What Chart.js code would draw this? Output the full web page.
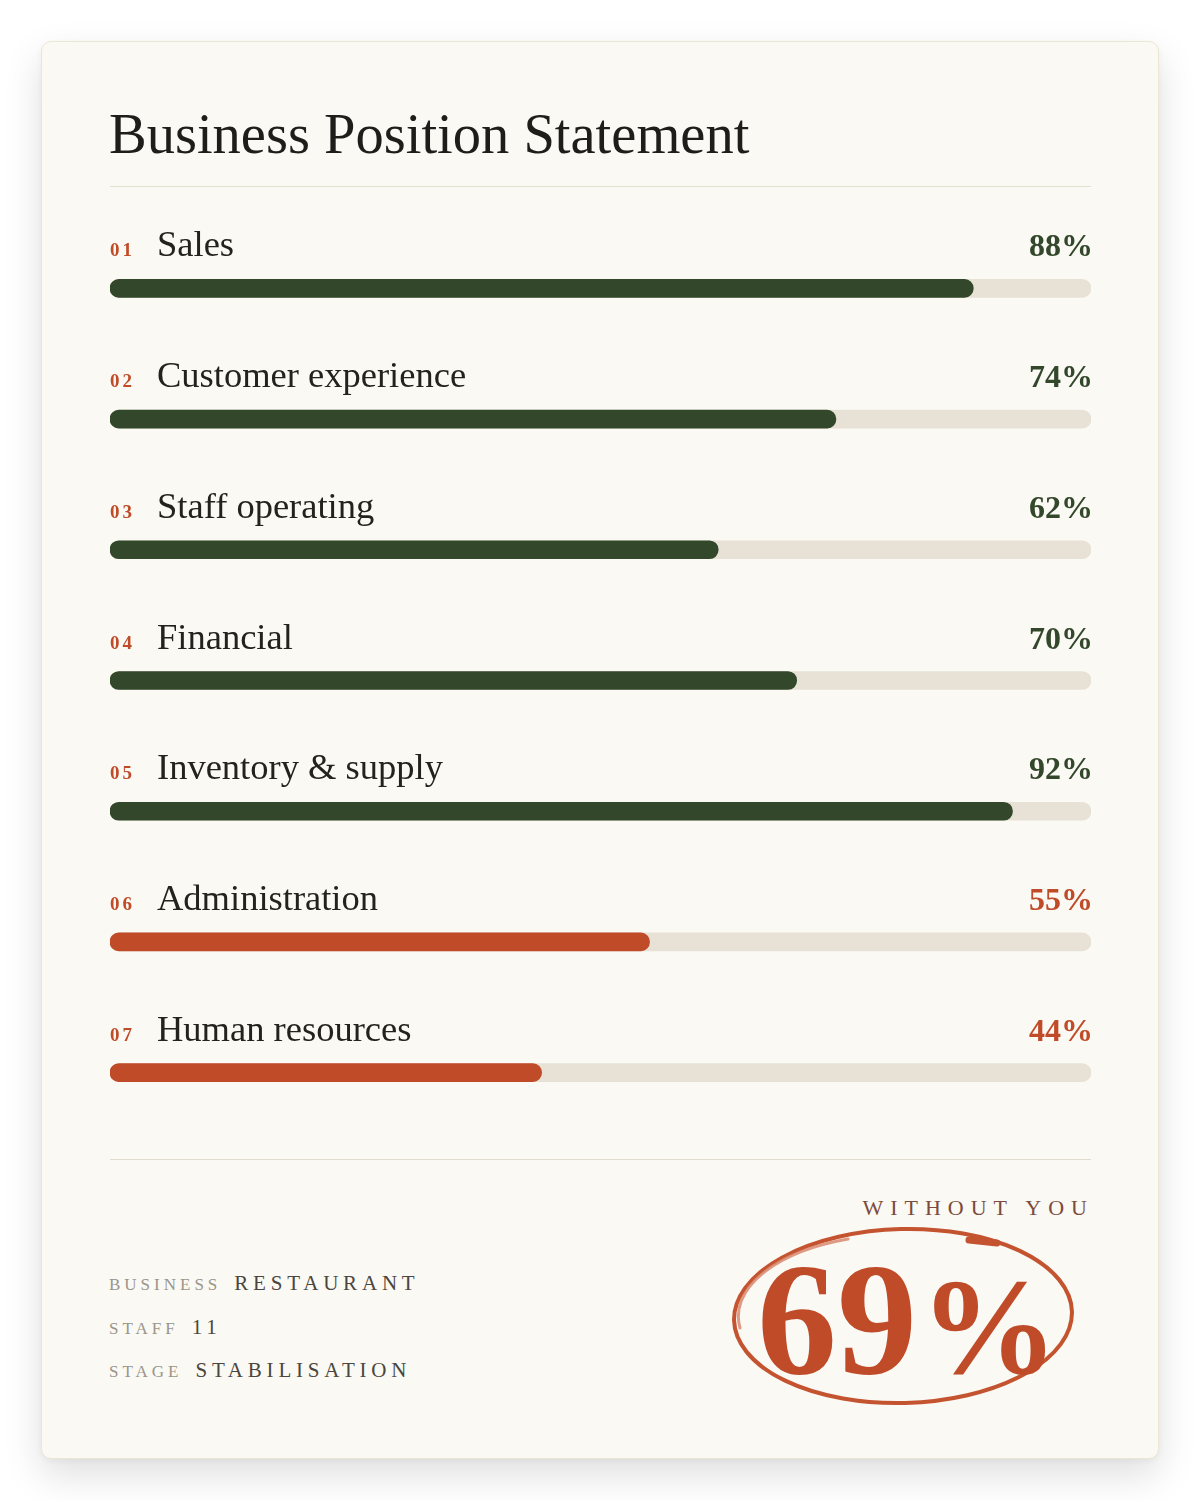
<!DOCTYPE html>
<html>
<head>
<meta charset="utf-8">
<script src="https://cdn.jsdelivr.net/npm/chart.js@4.4.1/dist/chart.umd.min.js"></script>
<style>
  html, body { margin:0; padding:0; background:#ffffff; }
  body { width:1200px; height:1500px; position:relative; overflow:hidden; font-family:"Liberation Serif", serif; }
  #card { position:absolute; left:41px; top:41px; width:1116px; height:1416px; background:#faf9f4;
          border:1px solid #ece6d4; border-radius:10px; box-shadow:0 16px 38px rgba(0,0,0,0.13), 0 2px 6px rgba(0,0,0,0.04); }
  #overlay { position:absolute; left:0; top:0; }
  #chart { position:absolute; left:110px; top:223px; }
</style>
</head>
<body>
<div id="card"></div>
<svg id="overlay" width="1200" height="1500" xmlns="http://www.w3.org/2000/svg">
  <text x="109" y="153" font-family="Liberation Serif" font-size="56.5" fill="#1f1d19">Business Position Statement</text>
  <line x1="110" y1="186.5" x2="1091" y2="186.5" stroke="#e4dfcf" stroke-width="1"/>
  <line x1="110" y1="1159.5" x2="1091" y2="1159.5" stroke="#e0dbcb" stroke-width="1"/>

  <g font-family="Liberation Serif">
    <text x="109" y="1290"><tspan font-size="17" fill="#9a958a" letter-spacing="4">BUSINESS</tspan><tspan dx="13" font-size="21" fill="#4a463e" letter-spacing="4.8">RESTAURANT</tspan></text>
    <text x="109" y="1334"><tspan font-size="17" fill="#9a958a" letter-spacing="4">STAFF</tspan><tspan dx="13" font-size="21" fill="#4a463e" letter-spacing="4.8">11</tspan></text>
    <text x="109" y="1377"><tspan font-size="17" fill="#9a958a" letter-spacing="4">STAGE</tspan><tspan dx="13" font-size="21" fill="#4a463e" letter-spacing="4.8">STABILISATION</tspan></text>
    <text x="1094" y="1215" text-anchor="end" font-size="22" fill="#7d4a3b" letter-spacing="7">WITHOUT YOU</text>
  </g>

  <g fill="none" stroke="#c4532f" stroke-linecap="round">
    <ellipse cx="903" cy="1316" rx="169" ry="87" stroke-width="4" transform="rotate(-1.5 903 1316)"/>
    <path d="M 740 1328 A 164 82 0 0 1 848 1239" stroke="#d98a70" stroke-width="3" opacity="0.85"/>
    <line x1="969" y1="1240" x2="997" y2="1243" stroke-width="7"/>
  </g>
  <text x="757" y="1373" font-family="Liberation Serif" font-weight="bold" fill="#c04b28"><tspan font-size="160">69</tspan><tspan dx="3" font-size="138">%</tspan></text>
</svg>
<canvas id="chart" width="981" height="915"></canvas>

<script>
// ---- data ----
const indexLabels = ['01', '02', '03', '04', '05', '06', '07'];
const categories = ['Sales', 'Customer experience', 'Staff operating', 'Financial', 'Inventory & supply', 'Administration', 'Human resources'];
const scores = [88, 74, 62, 70, 92, 55, 44];
const track = [100, 100, 100, 100, 100, 100, 100];

// ---- styles ----
const GREEN = '#33472b';
const RED = '#c04b28';
const TRACK = '#e8e2d6';
const WEAK_BELOW = 60;
const colorFor = v => (v < WEAK_BELOW ? RED : GREEN);

const rowLabels = {
  id: 'rowLabels',
  afterDatasetsDraw(chart) {
    const ctx = chart.ctx;
    const area = chart.chartArea;
    const yScale = chart.scales.y;
    ctx.save();
    ctx.textBaseline = 'alphabetic';
    categories.forEach((name, i) => {
      const y = yScale.getPixelForValue(i) - 32;
      // index number
      ctx.fillStyle = RED;
      ctx.font = '600 19px "Liberation Serif"';
      ctx.textAlign = 'left';
      ctx.letterSpacing = '3px';
      ctx.fillText(indexLabels[i], area.left, y);
      // category name
      ctx.letterSpacing = '0px';
      ctx.fillStyle = '#24221d';
      ctx.font = '36.5px "Liberation Serif"';
      ctx.fillText(name, area.left + 47, y);
      // percentage
      ctx.fillStyle = colorFor(scores[i]);
      ctx.font = 'bold 32px "Liberation Serif"';
      ctx.textAlign = 'right';
      ctx.fillText(scores[i] + '%', area.right + 2, y);
    });
    ctx.restore();
  }
};

new Chart(document.getElementById('chart'), {
  type: 'bar',
  data: {
    labels: categories,
    datasets: [
      {
        data: scores,
        backgroundColor: ctx => colorFor(ctx.raw),
        barThickness: 18,
        borderRadius: 9,
        borderSkipped: false,
        grouped: false,
        order: 1
      },
      {
        data: track,
        backgroundColor: TRACK,
        barThickness: 18,
        borderRadius: 9,
        borderSkipped: false,
        grouped: false,
        order: 2
      }
    ]
  },
  options: {
    indexAxis: 'y',
    responsive: false,
    devicePixelRatio: 1,
    animation: false,
    layout: { padding: 0 },
    scales: {
      x: { min: 0, max: 100, display: false },
      y: { display: false }
    },
    plugins: {
      legend: { display: false },
      tooltip: { enabled: false }
    }
  },
  plugins: [rowLabels]
});
</script>
</body>
</html>
